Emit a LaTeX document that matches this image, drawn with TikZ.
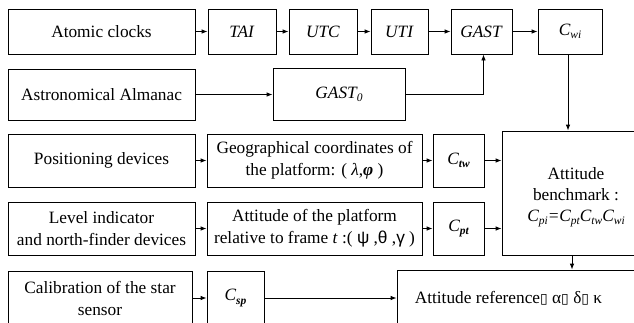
\documentclass[tikz,border=0pt]{standalone}
\usepackage{fontspec}
\setmainfont{Liberation Serif}
\newfontfamily\grk{Liberation Sans}
\newfontfamily\symf{DejaVu Sans}
\usetikzlibrary{arrows.meta}
\newcommand\lsub[1]{\raisebox{-0.4ex}{\fontsize{11.5}{12}\selectfont #1}}
\begin{document}
\begin{tikzpicture}[x=1pt,y=-1pt,
  box/.style={draw, line width=0.8pt, inner sep=0pt, align=center,
    font=\fontsize{17.3}{22}\selectfont},
  arr/.style={-{Latex[length=6pt,width=4.5pt]}, line width=0.8pt}]
\clip (0,0) rectangle (634,322);
\fill[white] (0,0) rectangle (634,322);
% row 1
\node[box, minimum width=187pt, minimum height=45pt] (ac) at (101.5,31.5) {Atomic clocks};
\node[box, minimum width=68pt, minimum height=45pt] (tai) at (242,31.5) {\textit{TAI}};
\node[box, minimum width=68pt, minimum height=45pt] (utc) at (323,31.5) {\textit{UTC}};
\node[box, minimum width=57pt, minimum height=45pt] (uti) at (399.5,31.5) {\textit{UTI}};
\node[box, minimum width=61pt, minimum height=45pt] (gast) at (481.5,31.5) {\textit{GAST}};
\node[box, minimum width=64pt, minimum height=45pt] (cwi) at (570,31.5) {\textit{C\lsub{wi}}};
% row 2
\node[box, minimum width=187pt, minimum height=51pt] (aa) at (101.5,94.5) {Astronomical Almanac};
\node[box, minimum width=132pt, minimum height=52pt] (gast0) at (339,94.5) {\textit{GAST\lsub{0}}};
% row 3
\node[box, minimum width=187pt, minimum height=53pt] (pos) at (101.5,160.5) {Positioning devices};
\node[box, minimum width=215pt, minimum height=53pt] (geo) at (314.5,160.5) {Geographical coordinates of\\the platform: ( \textit{λ},\textbf{\textit{φ}} )};
\node[box, minimum width=51pt, minimum height=53pt] (ctw) at (458.5,160.5) {\textit{C\lsub{\textbf{tw}}}};
\node[box, minimum width=148pt, minimum height=124pt, font=\fontsize{17.3}{21}\selectfont] (bench) at (576,193) {\rule{0pt}{20pt}Attitude\\benchmark :\\\textit{C\lsub{pi}=C\lsub{pt}C\lsub{tw}C\lsub{wi}}};
% row 4
\node[box, minimum width=187pt, minimum height=53pt] (lev) at (101.5,228.5) {Level indicator\\and north-finder devices};
\node[box, minimum width=215pt, minimum height=53pt] (att) at (314.5,228.5) {Attitude of the platform\\relative to frame \textit{t} :( {\grk ψ} ,{\grk θ} ,{\grk γ} )};
\node[box, minimum width=51pt, minimum height=53pt] (cpt) at (458.5,228.5) {\textit{C\lsub{\textbf{pt}}}};
% row 5
\node[box, minimum width=184pt, minimum height=54pt] (cal) at (100,298) {Calibration of the star\\sensor};
\node[box, minimum width=57pt, minimum height=54pt] (csp) at (235.5,298) {\textit{C\lsub{\textbf{sp}}}};
\node[box, minimum width=263pt, minimum height=56pt] (ref) at (528.5,298) {};
\node[anchor=west, inner sep=0pt, font=\fontsize{17.3}{22}\selectfont] (reftext) at ([xshift=18pt]ref.west) {Attitude reference{\symf\fontsize{14}{14}\selectfont ▯} α{\symf\fontsize{14}{14}\selectfont ▯} δ{\symf\fontsize{14}{14}\selectfont ▯} κ};
% arrows
\draw[arr] (ac) -- (tai);
\draw[arr] (tai) -- (utc);
\draw[arr] (utc) -- (uti);
\draw[arr] (uti) -- (gast);
\draw[arr] (gast) -- (cwi);
\draw[arr] (aa.east) -- (aa.east -| gast0.west);
\draw[arr] (gast0.east) -| ([xshift=2pt]gast.south);
\draw[arr] ([xshift=-2pt]cwi.south) -- ([xshift=-2pt]cwi.south |- bench.north);
\draw[arr] (pos) -- (geo);
\draw[arr] (geo) -- (ctw);
\draw[arr] (ctw.east) -- (ctw.east -| bench.west);
\draw[arr] (lev) -- (att);
\draw[arr] (att) -- (cpt);
\draw[arr] (cpt.east) -- (cpt.east -| bench.west);
\draw[arr] (cal) -- (csp);
\draw[arr] (csp.east) -- (csp.east -| ref.west);
\draw[arr] ([xshift=-4pt]bench.south) -- ([xshift=-4pt]bench.south |- ref.north);
\end{tikzpicture}
\end{document}
